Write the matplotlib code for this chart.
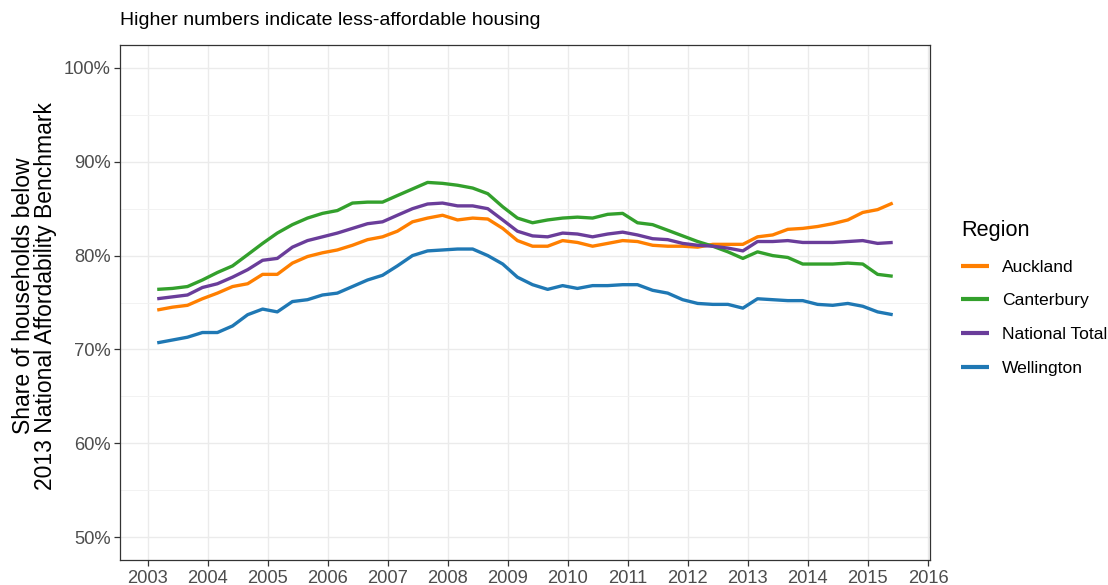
import matplotlib
matplotlib.use("Agg")
import matplotlib.pyplot as plt
import numpy as np
import pandas as pd

plt.rcParams['font.family'] = ['Liberation Sans', 'DejaVu Sans']

# quarterly observations, March 2003 onwards
dates = pd.date_range('2003-03-01', periods=50, freq='QS-MAR')

auckland = [74.2, 74.5, 74.7, 75.4, 76.0, 76.7, 77.0, 78.0, 78.0, 79.2,
            79.9, 80.3, 80.6, 81.1, 81.7, 82.0, 82.6, 83.6, 84.0, 84.3,
            83.8, 84.0, 83.9, 82.9, 81.6, 81.0, 81.0, 81.6, 81.4, 81.0,
            81.3, 81.6, 81.5, 81.1, 81.0, 81.0, 80.9, 81.2, 81.2, 81.2,
            82.0, 82.2, 82.8, 82.9, 83.1, 83.4, 83.8, 84.6, 84.9, 85.6]
canterbury = [76.4, 76.5, 76.7, 77.4, 78.2, 78.9, 80.1, 81.3, 82.4, 83.3,
              84.0, 84.5, 84.8, 85.6, 85.7, 85.7, 86.4, 87.1, 87.8, 87.7,
              87.5, 87.2, 86.6, 85.2, 84.0, 83.5, 83.8, 84.0, 84.1, 84.0,
              84.4, 84.5, 83.5, 83.3, 82.7, 82.1, 81.5, 81.0, 80.4, 79.7,
              80.4, 80.0, 79.8, 79.1, 79.1, 79.1, 79.2, 79.1, 78.0, 77.8]
national = [75.4, 75.6, 75.8, 76.6, 77.0, 77.7, 78.5, 79.5, 79.7, 80.9,
            81.6, 82.0, 82.4, 82.9, 83.4, 83.6, 84.3, 85.0, 85.5, 85.6,
            85.3, 85.3, 85.0, 83.8, 82.6, 82.1, 82.0, 82.4, 82.3, 82.0,
            82.3, 82.5, 82.2, 81.8, 81.7, 81.3, 81.1, 81.0, 80.8, 80.5,
            81.5, 81.5, 81.6, 81.4, 81.4, 81.4, 81.5, 81.6, 81.3, 81.4]
wellington = [70.7, 71.0, 71.3, 71.8, 71.8, 72.5, 73.7, 74.3, 74.0, 75.1,
              75.3, 75.8, 76.0, 76.7, 77.4, 77.9, 78.9, 80.0, 80.5, 80.6,
              80.7, 80.7, 80.0, 79.1, 77.7, 76.9, 76.4, 76.8, 76.5, 76.8,
              76.8, 76.9, 76.9, 76.3, 76.0, 75.3, 74.9, 74.8, 74.8, 74.4,
              75.4, 75.3, 75.2, 75.2, 74.8, 74.7, 74.9, 74.6, 74.0, 73.7]

regions = ['Auckland', 'Canterbury', 'National Total', 'Wellington']
series = [auckland, canterbury, national, wellington]
colors = ['#FF7F00', '#33A02C', '#6A3D9A', '#1F78B4']

x = dates.year + (dates.dayofyear - 1) / 365.25

fig = plt.figure(figsize=(11.08, 5.85), dpi=100)
ax = fig.add_axes([0.1087, 0.0419, 0.7302, 0.882])

for name, vals, col in zip(regions, series, colors):
    ax.plot(x, np.array(vals) / 100, color=col, lw=2.4, label=name,
            solid_capstyle='butt')

span = x.max() - x.min()
ax.set_xlim(x.min() - 0.05 * span, x.max() + 0.05 * span)
ax.set_ylim(0.475, 1.025)
ax.set_xticks(range(2003, 2017))
ax.set_yticks([0.5, 0.6, 0.7, 0.8, 0.9, 1.0])
ax.set_yticks([0.55, 0.65, 0.75, 0.85, 0.95], minor=True)
ax.set_yticklabels(['50%', '60%', '70%', '80%', '90%', '100%'])

ax.grid(True, which='major', color='#EBEBEB', lw=1.0)
ax.grid(True, which='minor', axis='y', color='#F2F2F2', lw=0.7)
ax.set_axisbelow(True)
for s in ax.spines.values():
    s.set_color('#333333')
    s.set_linewidth(0.9)
ax.tick_params(which='major', length=4, width=0.9, color='#333333',
               labelcolor='#4D4D4D', labelsize=13.2, pad=3)
ax.tick_params(which='minor', length=0)

ax.set_title('Higher numbers indicate less-affordable housing', loc='left',
             fontsize=14, pad=14)
ax.set_ylabel('Share of households below\n2013 National Affordability Benchmark',
              fontsize=16.5, linespacing=0.95)
ax.yaxis.set_label_coords(-0.078, 0.513)

leg = ax.legend(title='Region', loc='upper left', bbox_to_anchor=(1.02, 0.69),
                frameon=False, fontsize=12.6, title_fontsize=15.6,
                handlelength=1.6, handletextpad=0.7, labelspacing=1.05)
leg._legend_box.align = 'left'
for line in leg.get_lines():
    line.set_linewidth(3)

fig.savefig('out.png', dpi=100)
